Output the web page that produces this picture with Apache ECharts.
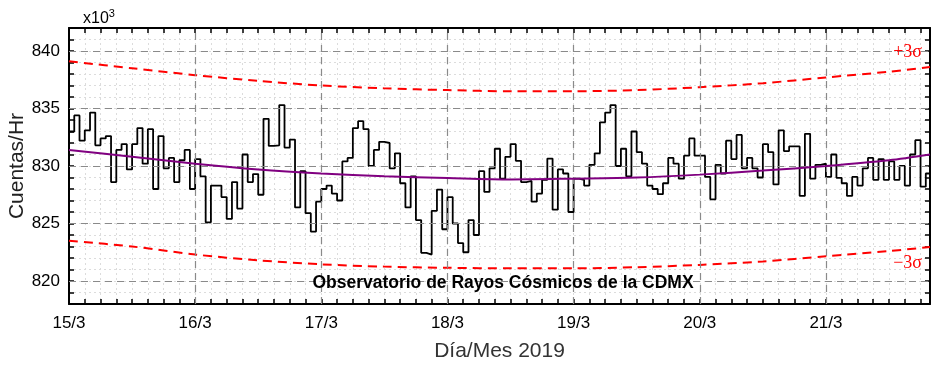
<!DOCTYPE html>
<html><head><meta charset="utf-8">
<script src="https://cdn.jsdelivr.net/npm/echarts@6/dist/echarts.min.js"></script>
<style>html,body{margin:0;padding:0;background:#fff}#c{width:941px;height:371px}</style>
</head><body><div id="c"></div>
<script>
// ---- data ----
const dayLabels = ['15/3','16/3','17/3','18/3','19/3','20/3','21/3'];
const yTickValues = [820, 825, 830, 835, 840];
const hoursShown = 163.8; // 15/3 00:00 .. 21/3 ~19:48
// hourly counts (x10^3 counts/hour), starting 15/3 00:00
const counts = [
 833.0,834.4,832.2,833.1,834.65,831.8,832.4,832.6,828.6,831.4,831.9,829.7,
 831.9,833.3,830.2,833.2,828.0,832.6,829.8,830.7,828.6,830.5,831.4,828.0,
 830.6,829.1,825.1,828.3,828.3,827.3,825.4,828.6,826.3,831.0,828.6,829.3,
 827.5,834.1,831.75,831.8,835.3,831.6,832.3,826.4,829.55,825.9,824.3,826.9,
 828.0,828.3,827.6,827.0,830.4,830.7,833.3,833.9,833.2,830.0,831.4,832.1,
 832.0,829.8,831.1,828.5,826.4,829.1,825.3,822.45,822.3,826.1,827.95,824.5,
 827.3,825.0,823.3,822.5,825.3,824.0,829.55,827.75,829.8,831.5,828.9,830.8,
 831.9,830.45,828.6,828.7,826.9,827.6,828.8,830.65,826.2,829.7,829.35,826.0,
 828.9,828.8,828.3,830.1,831.1,833.8,834.65,835.3,830.0,831.5,829.1,833.0,
 831.2,830.2,828.3,828.0,827.55,828.5,830.7,830.2,828.9,830.9,832.4,830.9,
 830.9,829.05,827.1,830.1,829.35,832.2,830.6,832.7,829.8,830.7,829.8,829.0,
 831.9,831.2,828.4,833.1,831.3,831.7,831.7,827.4,832.8,828.9,830.1,830.2,
 829.05,831.0,828.97,828.5,827.4,829.05,828.3,829.8,830.7,828.8,830.6,828.8,
 830.4,828.8,830.0,828.3,831.0,832.25,828.2,829.35
];
const fitHours = [0,12,24,36,48,60,72,84,96,108,120,132,144,156,163.8];
const fitMean  = [831.4,830.8,830.2,829.7,829.35,829.1,828.95,828.83,828.9,829.0,829.25,829.6,830.0,830.5,831.0];
const fitUpper = [839.1,838.5,837.9,837.4,837.0,836.75,836.6,836.5,836.5,836.6,836.85,837.2,837.7,838.2,838.6];
const fitLower = [823.5,823.0,822.3,821.8,821.45,821.25,821.15,821.1,821.1,821.2,821.4,821.7,822.15,822.6,822.96];

// ---- chart ----
const chart = echarts.init(document.getElementById('c'), null, {renderer: 'canvas'});
const FONT = 'Liberation Sans, Arial, sans-serif';
const stepData = counts.map((v, i) => [i, v]);
stepData.push([hoursShown, counts[counts.length - 1]]);
const zip = (xs, ys) => xs.map((x, i) => [x, ys[i]]);
const majorX = dayLabels.map((_, i) => i * 24).filter(v => v > 0);

const frameLine = {show: true, lineStyle: {color: '#000', width: 2}};
const option = {
  animation: false,
  backgroundColor: '#fff',
  grid: {left: 69, right: 11, top: 28, bottom: 67, show: false, containLabel: false, outerBoundsMode: 'none'},
  xAxis: [{
    type: 'value', min: 0, max: hoursShown, interval: 3, position: 'bottom',
    axisLine: Object.assign({onZero: false}, frameLine),
    axisTick: {show: true, inside: true, length: 5, lineStyle: {color: '#000', width: 1.5}},
    axisLabel: {
      color: '#000', fontSize: 17, fontFamily: FONT, margin: 11,
      showMaxLabel: false,
      formatter: v => (Math.abs(v % 24) < 1e-6 ? dayLabels[Math.round(v / 24)] : '')
    },
    splitLine: {show: true, lineStyle: {color: '#dcdcdc', type: [2, 3], width: 1}},
    name: 'Día/Mes 2019', nameLocation: 'middle', nameGap: 37,
    nameTextStyle: {color: '#333', fontSize: 21, fontFamily: FONT}
  }, {
    type: 'value', min: 0, max: hoursShown, interval: 3, position: 'top',
    axisLine: Object.assign({onZero: false}, frameLine),
    axisTick: {show: true, inside: true, length: 5, lineStyle: {color: '#000', width: 1.5}},
    axisLabel: {show: false}, splitLine: {show: false}
  }],
  yAxis: [{
    type: 'value', min: 818, max: 842, interval: 1, position: 'left',
    axisLine: Object.assign({onZero: false}, frameLine),
    axisTick: {show: true, inside: true, length: 5, lineStyle: {color: '#000', width: 1.5}},
    axisLabel: {
      color: '#000', fontSize: 17, fontFamily: FONT, margin: 9,
      formatter: v => (yTickValues.indexOf(Math.round(v)) >= 0 && Math.abs(v - Math.round(v)) < 1e-6 ? String(Math.round(v)) : '')
    },
    splitLine: {show: true, lineStyle: {color: '#dcdcdc', type: [2, 3], width: 1}}
  }, {
    type: 'value', min: 818, max: 842, interval: 1, position: 'right',
    axisLine: Object.assign({onZero: false}, frameLine),
    axisTick: {show: true, inside: true, length: 5, lineStyle: {color: '#000', width: 1.5}},
    axisLabel: {show: false}, splitLine: {show: false}
  }],
  series: [
    { // major grid lines
      type: 'line', data: [], silent: true, z: 1,
      markLine: {
        silent: true, symbol: ['none', 'none'], label: {show: false},
        lineStyle: {color: '#8a8a8a', type: [7, 5], width: 1.2},
        data: majorX.map(v => ({xAxis: v})).concat(yTickValues.map(v => ({yAxis: v})))
      }
    },
    {
      type: 'line', name: 'upper', data: zip(fitHours, fitUpper), smooth: 0.3, showSymbol: false,
      lineStyle: {color: '#ff0000', width: 2, type: [9, 6]}, z: 3
    },
    {
      type: 'line', name: 'lower', data: zip(fitHours, fitLower), smooth: 0.3, showSymbol: false,
      lineStyle: {color: '#ff0000', width: 2, type: [9, 6]}, z: 3
    },
    {
      type: 'line', name: 'counts', data: stepData, step: 'end', showSymbol: false,
      lineStyle: {color: '#000', width: 1.8}, z: 4
    },
    {
      type: 'line', name: 'mean', data: zip(fitHours, fitMean), smooth: 0.3, showSymbol: false,
      lineStyle: {color: '#800080', width: 2}, z: 5
    }
  ],
  graphic: [
    {type: 'text', x: 17, y: 166, rotation: Math.PI / 2, z: 10, style: {
      text: 'Cuentas/Hr', fill: '#222', font: '21px "Liberation Sans", Arial, sans-serif',
      align: 'center', verticalAlign: 'middle'}},
    {type: 'text', left: 83, top: 8, z: 10, style: {
      text: '{a|x10}{b|3}', fill: '#000',
      rich: {a: {fontSize: 16, fontFamily: FONT, fill: '#000', verticalAlign: 'bottom'},
             b: {fontSize: 11, fontFamily: FONT, fill: '#000', verticalAlign: 'top', padding: [0, 0, 8, 0]}}
    }},
    {type: 'text', right: 19, top: 43, z: 10, style: {
      text: '+3σ', fill: '#ff0000', font: '18px "Liberation Serif", "Times New Roman", serif'}},
    {type: 'text', right: 19, top: 254, z: 10, style: {
      text: '−3σ', fill: '#ff0000', font: '18px "Liberation Serif", "Times New Roman", serif'}},
    {type: 'text', x: 503, y: 283, z: 10, style: {
      text: 'Observatorio de Rayos Cósmicos de la CDMX', fill: '#000',
      font: 'bold 17.5px "Liberation Sans", Arial, sans-serif', align: 'center', verticalAlign: 'middle'}}
  ]
};
chart.setOption(option);
</script>
</body></html>
